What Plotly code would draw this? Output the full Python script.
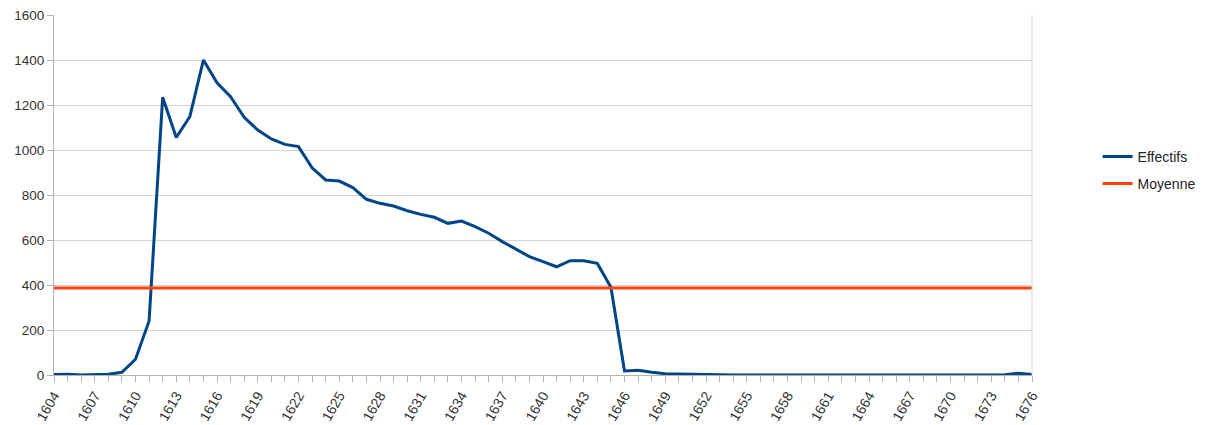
import plotly.graph_objects as go

years = list(range(1604, 1677))
effectifs = [2, 3, 0, 2, 3, 12, 70, 240, 1234, 1056, 1148, 1400, 1299, 1237, 1145, 1089,
             1049, 1025, 1015, 921, 867, 862, 833, 781, 763, 751, 730, 714, 701, 674,
             684, 659, 630, 593, 558, 526, 504, 481, 508, 508, 496, 390, 18, 21, 12,
             6, 5, 3, 2, 2, 0, 0, 0, 0, 0, 0, 0, 0, 0, 0, 0, 0, 0, 0, 0, 0, 0, 0, 0, 0,
             1, 8, 2]
moyenne_value = 387
moyenne = [moyenne_value, moyenne_value]
moyenne_x = [years[0], years[-1]]
tick_years = list(range(1604, 1677, 3))
y_ticks = [0, 200, 400, 600, 800, 1000, 1200, 1400, 1600]

fig = go.Figure()
fig.add_trace(go.Scatter(x=years, y=effectifs, mode="lines", name="Effectifs",
                         line=dict(color="#004586", width=3), legend="legend"))
fig.add_trace(go.Scatter(x=moyenne_x, y=moyenne, mode="lines", name="Moyenne",
                         line=dict(color="#ff420e", width=3), legend="legend2"))

legend_common = dict(xanchor="left", yanchor="middle", bgcolor="rgba(0,0,0,0)",
                     font=dict(size=14, color="#222222"), itemwidth=30)
fig.update_layout(
    width=1212, height=425,
    margin=dict(l=54, r=179, t=15, b=50),
    paper_bgcolor="white", plot_bgcolor="white",
    font=dict(family="Liberation Sans, Arial, sans-serif", size=13, color="#333333"),
    legend=dict(x=1.066, y=0.606, **legend_common),
    legend2=dict(x=1.066, y=0.531, **legend_common),
    showlegend=True,
)
fig.update_xaxes(
    range=[years[0], years[-1]], tickvals=tick_years, ticktext=[str(t) for t in tick_years],
    tickangle=-60, ticks="outside", ticklen=6, tickcolor="#b3b3b3",
    showgrid=False, showline=True, linecolor="#b3b3b3", mirror=False,
    minor=dict(dtick=1, tick0=1604, ticks="outside", ticklen=6, tickcolor="#b3b3b3", showgrid=False),
    tickfont=dict(size=14, color="#333333"), zeroline=False, automargin=False,
    ticklabeloverflow="allow",
)
fig.update_yaxes(
    range=[0, 1600], tickvals=y_ticks, ticks="outside", ticklen=6, tickcolor="#b3b3b3",
    showgrid=True, gridcolor="#d4d4d4", gridwidth=1,
    showline=True, linecolor="#b3b3b3", zeroline=False,
    tickfont=dict(size=13.5, color="#333333"), automargin=False,
    ticklabeloverflow="allow",
)
# right border line
fig.add_shape(type="line", xref="paper", yref="paper", x0=1, x1=1, y0=0, y1=1,
              line=dict(color="#d4d4d4", width=1))

fig.write_html("out.html", config={"displayModeBar": False},
               post_script="document.body.style.margin='0px';document.body.style.overflow='hidden';")
